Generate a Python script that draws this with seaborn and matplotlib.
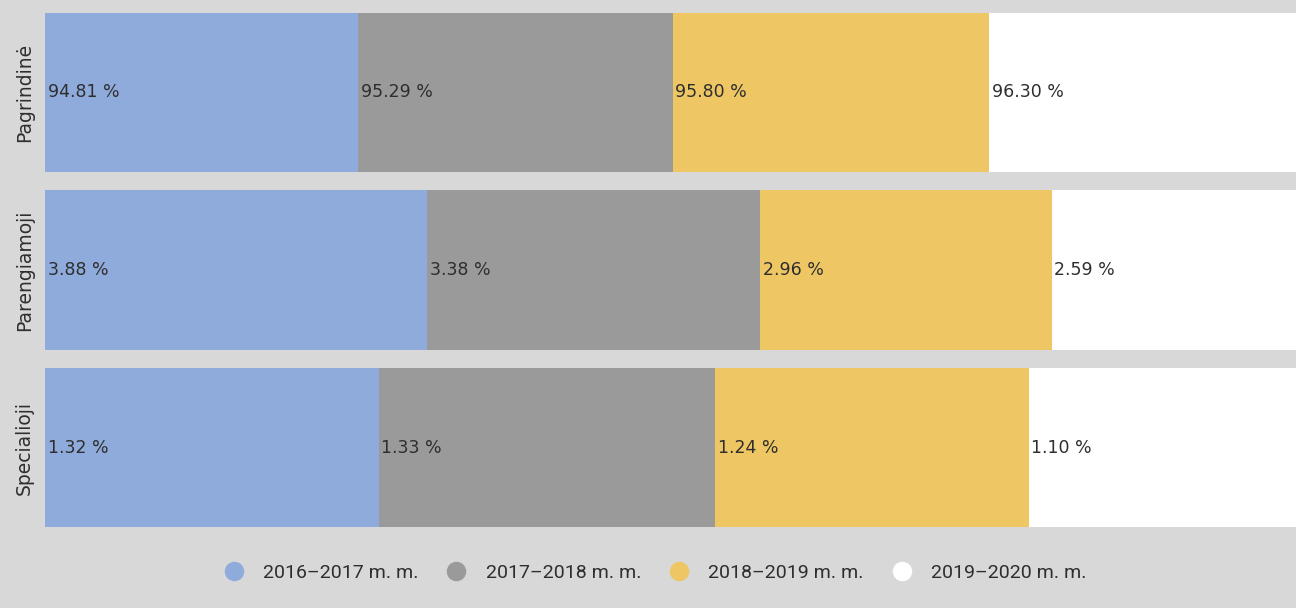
import numpy as np
import pandas as pd
import matplotlib
matplotlib.use("Agg")
import matplotlib.pyplot as plt
from matplotlib.lines import Line2D
import seaborn as sns

# Shares of pupils by programme type for each school year (%)
categories = ["Pagrindinė", "Parengiamoji", "Specialioji"]
years = ["2016–2017 m. m.", "2017–2018 m. m.", "2018–2019 m. m.", "2019–2020 m. m."]
y2016 = [94.81, 3.88, 1.32]
y2017 = [95.29, 3.38, 1.33]
y2018 = [95.80, 2.96, 1.24]
y2019 = [96.30, 2.59, 1.10]
colors = ["#8fabdc", "#9a9a9a", "#eec764", "#ffffff"]

sns.set_theme(style="white")
plt.rcParams["font.family"] = ["DejaVu Sans"]

series = [y2016, y2017, y2018, y2019]
values = np.array(series).T              # rows: categories, cols: years
shares = values / values.sum(axis=1, keepdims=True) * 100
cum = np.cumsum(shares, axis=1)

fig = plt.figure(figsize=(12.96, 6.08), dpi=100)
fig.patch.set_facecolor("#d8d8d8")
ax = fig.add_axes([45 / 1296, (608 - 536.5) / 608, 1262 / 1296, 533 / 608])
ax.set_facecolor("none")

# stacked bars: draw cumulative totals from the last segment backwards
for j in range(len(years) - 1, -1, -1):
    df = pd.DataFrame({"cat": categories, "val": cum[:, j]})
    sns.barplot(data=df, x="val", y="cat", orient="h", color=colors[j],
                saturation=1, width=0.895, ax=ax, linewidth=0, zorder=2 + (3 - j))

# value labels at the left edge of each segment
for i in range(len(categories)):
    for j in range(len(years)):
        left = 0 if j == 0 else cum[i, j - 1]
        ax.text(left + 0.2, i, f"{values[i, j]:.2f} %", ha="left", va="center",
                fontsize=12.5, color="#2e2e2e", zorder=10)

ax.set_xlim(0, 100)
ax.set_ylim(2.5, -0.5)
ax.set_xlabel("")
ax.set_ylabel("")
ax.set_xticks([])
ax.tick_params(axis="y", length=0, pad=8)
for lab in ax.get_yticklabels():
    lab.set_rotation(90)
    lab.set_va("center")
    lab.set_fontsize(13.5)
    lab.set_color("#2e2e2e")
sns.despine(ax=ax, left=True, bottom=True)

handles = [Line2D([0], [0], marker="o", linestyle="", markersize=13,
                  markerfacecolor=c, markeredgecolor=c) for c in colors]
fig.legend(handles, years, loc="center", bbox_to_anchor=(0.5055, 1 - 573 / 608),
           ncol=4, frameon=False, handlelength=1.0, handletextpad=1.0,
           columnspacing=1.45, prop={"family": "Roboto", "size": 14},
           labelcolor="#2e2e2e")

fig.savefig("out.png", dpi=100, facecolor=fig.get_facecolor())
